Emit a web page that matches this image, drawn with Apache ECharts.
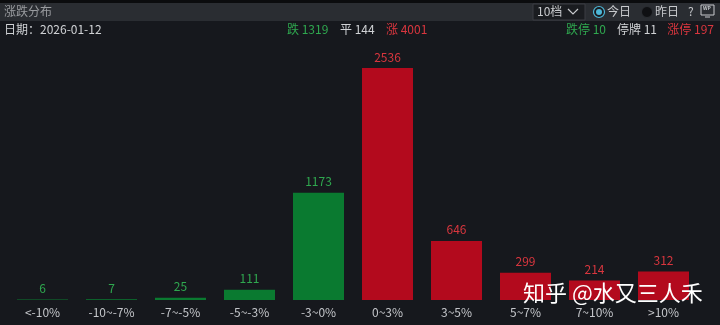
<!DOCTYPE html>
<html><head><meta charset="utf-8">
<script src="https://cdn.jsdelivr.net/npm/echarts@6/dist/echarts.min.js"></script>
<style>html,body{margin:0;padding:0;background:#16181d;}#c{width:720px;height:325px;}</style>
</head><body><div id="c"></div>
<script>
const categories = ['<-10%','-10~-7%','-7~-5%','-5~-3%','-3~0%','0~3%','3~5%','5~7%','7~10%','>10%'];
const values = [6,7,25,111,1173,2536,646,299,214,312];
const isUp = [false,false,false,false,false,true,true,true,true,true];
const F = '"Noto Sans CJK SC","Noto Sans",sans-serif';
const chart = echarts.init(document.getElementById('c'));
chart.setOption({
  backgroundColor:'#16181d',
  animation:false,
  grid:{left:8,right:22,top:68,bottom:25,containLabel:false},
  xAxis:{type:'category',data:categories,axisLine:{show:false},axisTick:{show:false},
    axisLabel:{color:'#c4c6ca',fontSize:12,fontFamily:F,margin:6,interval:0}},
  yAxis:{type:'value',min:0,max:2536,show:false,splitLine:{show:false}},
  series:[{type:'bar',barWidth:51,
    data:values.map((v,i)=>({value:v,itemStyle:{color:isUp[i]?'#b30a1d':'#0a7a30'},
      label:{color:isUp[i]?'#d9363e':'#2fa84f'}})),
    label:{show:true,position:'top',distance:5,fontSize:12,fontFamily:F}}],
  graphic:[
    {type:'rect',shape:{x:0,y:0,width:720,height:3},style:{fill:'#0b0c0e'}},
    {type:'rect',shape:{x:0,y:3,width:720,height:18},style:{fill:'#2a2d32'}},
    {type:'text',left:4,top:5,style:{text:'涨跌分布',fill:'#9a9ca0',font:'12px '+F}},
    {type:'rect',shape:{x:533,y:4,width:52,height:16},style:{fill:'#1a1c20',stroke:'#3a3d42'}},
    {type:'text',left:537,top:5,style:{text:'10档',fill:'#c8cacd',font:'12px '+F}},
    {type:'polyline',shape:{points:[[568,9],[573,14],[578,9]]},style:{stroke:'#c8cacd',lineWidth:1.2,fill:null}},
    {type:'circle',shape:{cx:599,cy:12,r:5.5},style:{fill:'#1a1c20',stroke:'#4db8d8',lineWidth:1.2}},
    {type:'circle',shape:{cx:599,cy:12,r:3},style:{fill:'#4db8d8'}},
    {type:'text',left:607,top:5,style:{text:'今日',fill:'#c8cacd',font:'12px '+F}},
    {type:'circle',shape:{cx:647,cy:12,r:5.5},style:{fill:'#0f1013',stroke:'#2a2d32'}},
    {type:'text',left:655,top:5,style:{text:'昨日',fill:'#c8cacd',font:'12px '+F}},
    {type:'text',left:688,top:5,style:{text:'?',fill:'#c8cacd',font:'12px '+F}},
    {type:'rect',shape:{x:701,y:5,width:13,height:10},style:{fill:'none',stroke:'#c8cacd',lineWidth:1}},
    {type:'text',left:703,top:6,style:{text:'WP',fill:'#c8cacd',font:'bold 5px '+F}},
    {type:'line',shape:{x1:705,y1:17,x2:710,y2:17},style:{stroke:'#c8cacd'}},
    {type:'text',left:4,top:23,style:{text:'日期：2026-01-12',fill:'#d0d2d5',font:'12px '+F}},
    {type:'text',left:287,top:23,style:{text:'跌 1319',fill:'#2fa84f',font:'12px '+F}},
    {type:'text',left:340,top:23,style:{text:'平 144',fill:'#d0d2d5',font:'12px '+F}},
    {type:'text',left:386,top:23,style:{text:'涨 4001',fill:'#d9363e',font:'12px '+F}},
    {type:'text',left:566,top:23,style:{text:'跌停 10',fill:'#2fa84f',font:'12px '+F}},
    {type:'text',left:617,top:23,style:{text:'停牌 11',fill:'#d0d2d5',font:'12px '+F}},
    {type:'text',right:6,top:23,style:{text:'涨停 197',fill:'#d9363e',font:'12px '+F}},
    {type:'text',left:523,top:282,z:100,style:{text:'知乎 @水又三人禾',fill:'#ffffff',font:'22px '+F}}
  ]
});
</script></body></html>
